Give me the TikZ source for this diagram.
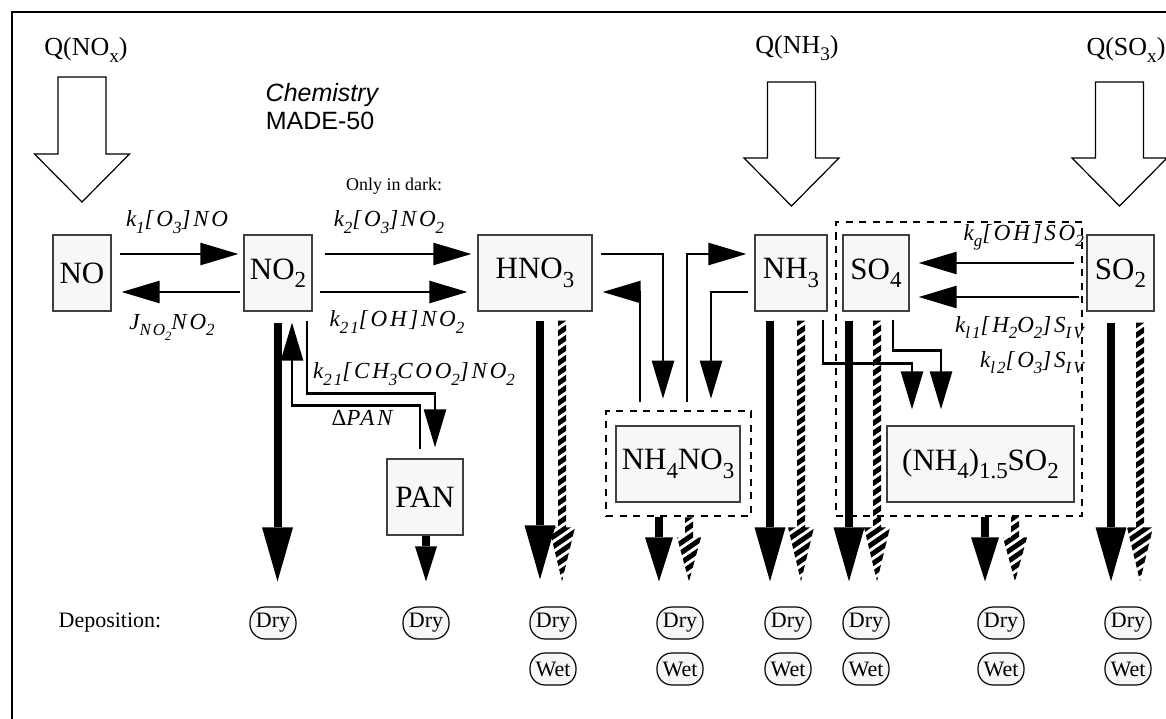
\documentclass[tikz,border=0pt]{standalone}
\usepackage{fontspec}
\usepackage{graphicx}
\setmainfont{Liberation Serif}
\newfontfamily\sansf{Liberation Sans}
\newfontfamily\eqf[LetterSpace=12]{Liberation Serif}
\usetikzlibrary{arrows.meta,calc}
\newcommand\dn[1]{\raisebox{-0.27em}{\scalebox{0.74}{#1}}}
\newcommand\hatchdep[4]{%
\begin{scope}
\clip let \p1=(#1), \p2=(#2) in
 (\x1-4pt,\y1) -- (\x1+4pt,\y1) -- (\x1+4pt,\y2+#4) -- (\x1+#3,\y2+#4) -- (\x2,\y2) -- (\x1-#3,\y2+#4) -- (\x1-4pt,\y2+#4) -- cycle;
\foreach \k in {0,...,30}{
 \draw[line width=5pt] let \p1=(#1) in (\x1-16pt,\y1-\k*10pt-11pt) -- (\x1+16pt,\y1-\k*10pt+11pt);
}
\end{scope}}
\newcommand\hollowarr[4]{\draw[hollowarrow] (#1-24,#2) -- (#1+24,#2) -- (#1+24,#3) -- (#1+47.5,#3) -- (#1,#4) -- (#1-47.5,#3) -- (#1-24,#3) -- cycle;}
\begin{document}
\begin{tikzpicture}[x=1pt,y=-1pt,
 box/.style={draw=black!75, line width=1.2pt, fill=black!3, inner sep=0pt, minimum height=76pt, font=\fontsize{31}{36}\selectfont},
 grp/.style={draw, line width=2.6pt, dash pattern=on 7pt off 6.5pt, inner sep=0pt},
 dep/.style={draw=black, line width=1.2pt, fill=black!3, rounded corners=15pt, minimum width=46pt, minimum height=32pt, inner sep=0pt, font=\fontsize{22}{26}\selectfont},
 conn/.style={line width=2.5pt, -{Triangle[length=38pt,width=22pt]}},
 big/.style={line width=8pt, -{Triangle[length=54pt,width=31pt,line width=0pt]}},
 mid/.style={line width=8pt, -{Triangle[length=44pt,width=28pt,line width=0pt]}},
 sml/.style={line width=8pt, -{Triangle[length=35pt,width=22pt,line width=0pt]}},
 hollowarrow/.style={draw=black, line width=1.2pt, fill=white},
 eq/.style={font=\eqf\itshape\fontsize{23}{27}\selectfont, inner sep=0pt},
 lab/.style={font=\fontsize{26}{30}\selectfont, inner sep=0pt},
 ]
\useasboundingbox (0,0) rectangle (1166,719);
\draw[line width=2.5pt] (12,740) -- (12,12) -- (1190,12);

% source labels and hollow arrows
\node[lab] (qnox) at (86,50) {Q(NO\dn{x})};
\node[lab] (qnh3) at (797,48) {Q(NH\dn{3})};
\node[lab] (qsox) at (1126,50) {Q(SO\dn{x})};
\hollowarr{82}{77}{154}{202}
\hollowarr{791.5}{82}{158}{206}
\hollowarr{1119.5}{82}{158}{206}

% title
\node[font=\sansf\itshape\fontsize{25}{28}\selectfont, anchor=base, inner sep=0pt] (t1) at (322,102) {Chemistry};
\node[font=\sansf\fontsize{25}{28}\selectfont, anchor=base, inner sep=0pt] (t2) at (320,130) {MADE-50};
\node[font=\fontsize{18}{21}\selectfont, inner sep=0pt] (dark) at (394,186) {Only in dark:};

% species boxes
\node[box, minimum width=58pt] (NO) at (82,273) {NO};
\node[box, minimum width=68pt] (NO2) at (278,273) {NO\dn{2}};
\node[box, minimum width=114pt] (HNO3) at (535,273) {HNO\dn{3}};
\node[box, minimum width=72pt] (NH3) at (791,273) {NH\dn{3}};
\node[box, minimum width=66pt] (SO4) at (876,273) {SO\dn{4}};
\node[box, minimum width=67pt] (SO2) at (1120.5,273) {SO\dn{2}};
\node[box, minimum width=76pt] (PAN) at (425,497) {PAN};
\node[box, minimum width=124pt] (NHN) at (678,464) {NH\dn{4}NO\dn{3}};
\node[box, minimum width=187pt] (NHS) at (980.5,464) {(NH\dn{4})\dn{1.5}SO\dn{2}};
\node[grp, minimum width=145pt, minimum height=105pt] (gN) at (678.5,463.5) {};
\node[grp, minimum width=246pt, minimum height=294pt] (gS) at (959,369) {};

% rate labels
\node[eq] (l1) at (177,222) {k\dn{1}[O\dn{3}]NO};
\node[eq] (l2) at (172,327) {J\dn{NO\dn{2}}NO\dn{2}};
\node[eq] (l3) at (389,222) {k\dn{2}[O\dn{3}]NO\dn{2}};
\node[eq] (l4) at (397,322) {k\dn{21}[OH]NO\dn{2}};
\node[eq, anchor=west] (l5) at (313,374) {k\dn{21}[CH\dn{3}COO\dn{2}]NO\dn{2}};
\node[eq] (l6) at (362,418) {\textup{Δ}PAN};
\node[eq, anchor=east] (l7) at (1084,237) {k\dn{g}[OH]SO\dn{2}};
\node[eq, anchor=east] (l8) at (1084,328) {k\dn{l1}[H\dn{2}O\dn{2}]S\dn{IV}};
\node[eq, anchor=east] (l9) at (1084,363) {k\dn{l2}[O\dn{3}]S\dn{IV}};

% deposition
\node[font=\fontsize{22}{26}\selectfont] (depo) at (110,623) {Deposition:};
\foreach \n/\x in {1/273,2/426,3/553,4/680,5/788,6/866,7/1001,8/1128}
  \node[dep] (D\n) at (\x,623) {Dry};
\foreach \n/\x in {3/553,4/680,5/788,6/866,7/1001,8/1128}
  \node[dep] (W\n) at (\x,669) {Wet};

% hatched (wet) deposition
\coordinate (hs3) at ($(HNO3.south)+(27,9)$);  \coordinate (he3) at ($(HNO3.south |- D3.north)+(27,-25)$);
\coordinate (hs4) at ($(gN.south)+(10.5,0)$);   \coordinate (he4) at ($(gN.south |- D4.north)+(10.5,-25)$);
\coordinate (hs5) at ($(NH3.south)+(10,9)$);    \coordinate (he5) at ($(NH3.south |- D5.north)+(10,-25)$);
\coordinate (hs6) at ($(SO4.south)+(1,9)$);     \coordinate (he6) at ($(SO4.south |- D6.north)+(1,-25)$);
\coordinate (hs7) at ($(NHS.south)+(34.5,14)$); \coordinate (he7) at ($(NHS.south |- D7.north)+(34.5,-25)$);
\coordinate (hs8) at ($(SO2.south)+(19.5,11)$); \coordinate (he8) at ($(SO2.south |- D8.north)+(19.5,-25)$);
\hatchdep{hs3}{he3}{13pt}{54pt}
\hatchdep{hs4}{he4}{12pt}{44pt}
\hatchdep{hs5}{he5}{13pt}{54pt}
\hatchdep{hs6}{he6}{13pt}{54pt}
\hatchdep{hs7}{he7}{12pt}{44pt}
\hatchdep{hs8}{he8}{13pt}{54pt}

% solid (dry) deposition
\draw[big] ($(NO2.south)+(-0.5,11)$) -- ($(NO2.south |- D1.north)+(-0.5,-25)$);
\draw[sml] ($(PAN.south)+(1,0)$) -- ($(PAN.south |- D2.north)+(1,-25)$);
\draw[big] ($(HNO3.south)+(5,9)$) -- ($(HNO3.south |- D3.north)+(5,-27)$);
\draw[mid] ($(gN.south)+(-19.5,0)$) -- ($(gN.south |- D4.north)+(-19.5,-25)$);
\draw[big] ($(NH3.south)+(-21,9)$) -- ($(NH3.south |- D5.north)+(-21,-25)$);
\draw[big] ($(SO4.south)+(-27,9)$) -- ($(SO4.south |- D6.north)+(-27,-25)$);
\draw[mid] ($(NHS.south)+(4.5,14)$) -- ($(NHS.south |- D7.north)+(4.5,-25)$);
\draw[big] ($(SO2.south)+(-9.5,11)$) -- ($(SO2.south |- D8.north)+(-9.5,-25)$);

% reactions
\draw[conn] ($(NO.east)+(8,-19)$) -- ($(NO2.west)+(-5,-19)$);
\draw[conn] ($(NO2.west)+(-3,19)$) -- ($(NO.east)+(10,19)$);
\draw[conn] ($(NO2.east)+(12,-19)$) -- ($(HNO3.west)+(-6,-19)$);
\draw[conn] ($(NO2.east)+(7,19)$) -- ($(HNO3.west)+(-10,19)$);
\draw[conn] ($(HNO3.east)+(8,-19)$) -| ($(gN.north)+(-15.5,-11)$);
\draw[conn] ($(gN.north)+(-38.5,-8)$) |- ($(HNO3.east)+(10,19)$);
\draw[conn] ($(gN.north)+(8.5,-8)$) |- ($(NH3.west)+(-8,-19)$);
\draw[conn] ($(NH3.west)+(-6,19)$) -| ($(gN.north)+(32.5,-11)$);
\draw[conn] ($(NH3.south)+(32,8)$) -- ($(NH3.south)+(32,52)$) -| ($(NHS.north)+(-68.5,-16)$);
\draw[conn] ($(SO4.south)+(17,8)$) -- ($(SO4.south)+(17,39)$) -| ($(NHS.north)+(-39.5,-16)$);
\draw[conn] ($(SO2.west)+(-12,-10)$) -- ($(SO4.east)+(9,-10)$);
\draw[conn] ($(SO2.west)+(-7,24)$) -- ($(SO4.east)+(9,24)$);
\draw[conn] ($(NO2.south)+(29,9)$) -- ($(NO2.south)+(29,82)$) -| ($(PAN.north)+(10,-11)$);
\draw[conn] ($(PAN.north)+(-5,-9)$) -- ($(PAN.north)+(-5,-53)$) -| ($(NO2.south)+(14,11)$);
\end{tikzpicture}
\end{document}
